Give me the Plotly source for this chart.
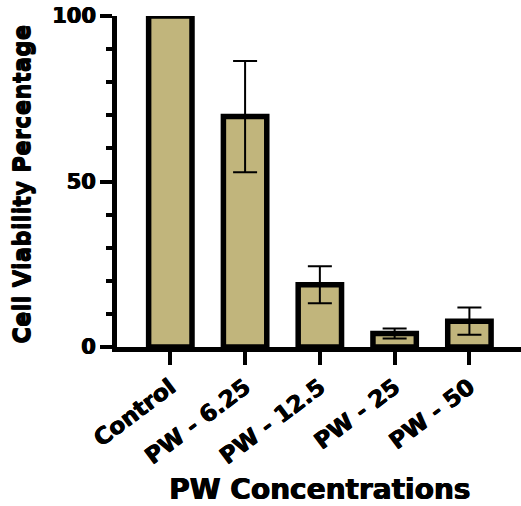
import plotly.graph_objects as go

categories = ["Control", "PW - 6.25", "PW - 12.5", "PW - 25", "PW - 50"]
viability = [100, 69.6, 18.8, 4.1, 7.8]
error_sd = [0, 16.8, 5.6, 1.5, 4.1]
y_ticks = [0, 50, 100]

FONT = "DejaVu Sans"
BAR_FILL = "#C1B57C"
THICK = "0.7px 0 0 black, -0.3px 0 0 black"

fig = go.Figure()
fig.add_trace(go.Bar(
    x=list(range(len(categories))),
    y=viability,
    width=0.58,
    marker=dict(color=BAR_FILL, line=dict(color="black", width=5.5)),
    error_y=dict(type="data", array=error_sd, visible=True,
                 color="black", thickness=2, width=12),
    cliponaxis=False,
))

fig.update_layout(
    width=521, height=506,
    margin=dict(l=117, r=0, t=16, b=159),
    plot_bgcolor="white", paper_bgcolor="white",
    showlegend=False,
    font=dict(family=FONT, color="black"),
    xaxis=dict(
        range=[-0.713, 4.69],
        tickvals=list(range(len(categories))),
        ticktext=categories,
        tickangle=-37,
        tickfont=dict(family=FONT, size=23, color="black", weight="bold", shadow=THICK),
        showline=True, linecolor="black", linewidth=5,
        ticks="outside", ticklen=13, tickwidth=4, tickcolor="black",
        showgrid=False, zeroline=False,
    ),
    yaxis=dict(
        range=[0, 100],
        tickvals=y_ticks,
        tickfont=dict(family=FONT, size=21, color="black", weight="bold", shadow=THICK),
        showline=True, linecolor="black", linewidth=5,
        ticks="outside", ticklen=12, tickwidth=4, tickcolor="black",
        minor=dict(dtick=10, ticks="outside", ticklen=6, tickwidth=4, tickcolor="black"),
        showgrid=False, zeroline=False,
    ),
    annotations=[
        dict(text="Cell Viability Percentage", xref="paper", yref="paper",
             x=-0.235, y=0.49, xanchor="center", yanchor="middle", textangle=-90,
             showarrow=False,
             font=dict(family=FONT, size=23, color="black", weight="bold",
                       shadow="0 0.8px 0 black, 0 -0.8px 0 black")),
        dict(text="PW Concentrations", xref="paper", yref="paper",
             x=0.502, y=-0.43, xanchor="center", yanchor="middle",
             showarrow=False, font=dict(family=FONT, size=28, color="black", weight="bold", shadow=THICK)),
    ],
)

fig.write_html("out.html")
